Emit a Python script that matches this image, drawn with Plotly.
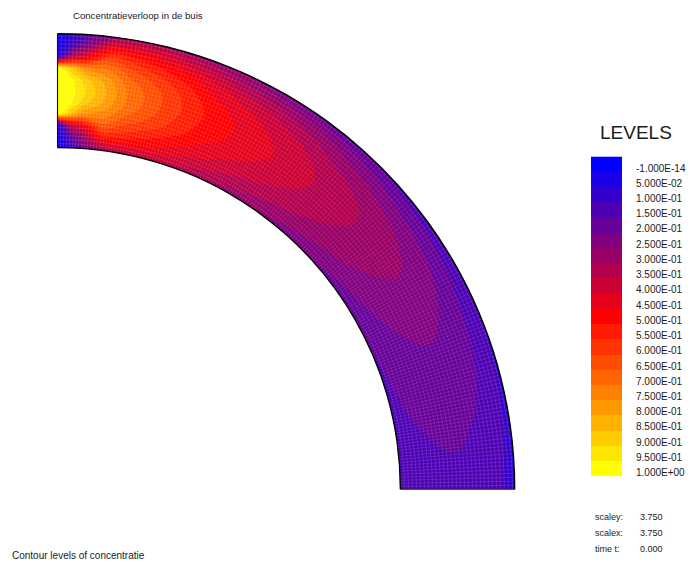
import numpy as np
import plotly.graph_objects as go

# ---- data -----------------------------------------------------------------
# radial stations across the bend, inner wall (3) to outer wall (4)
radius = [3.0, 3.1, 3.2, 3.3, 3.4, 3.5, 3.6, 3.7, 3.8, 3.9, 4.0]
# stations along the bend in degrees, inlet (0) to outlet (90)
angle = [0, 2, 4, 7, 10, 14, 18, 22, 26, 30, 36, 42, 48, 54, 60, 67, 74, 82, 90]

# concentration, one row per angle station, columns follow `radius`
concentration = [
    [0.00, 0.00, 0.02, 1.00, 1.00, 1.00, 1.00, 1.00, 0.02, 0.00, 0.00],
    [0.08, 0.15, 0.35, 0.85, 0.96, 0.97, 0.96, 0.85, 0.35, 0.12, 0.06],
    [0.18, 0.27, 0.45, 0.75, 0.87, 0.90, 0.87, 0.74, 0.45, 0.24, 0.15],
    [0.29, 0.47, 0.62, 0.72, 0.78, 0.80, 0.78, 0.71, 0.60, 0.45, 0.25],
    [0.34, 0.47, 0.57, 0.64, 0.69, 0.70, 0.68, 0.63, 0.55, 0.44, 0.29],
    [0.35, 0.45, 0.52, 0.58, 0.61, 0.62, 0.61, 0.57, 0.50, 0.42, 0.30],
    [0.34, 0.42, 0.47, 0.52, 0.54, 0.55, 0.54, 0.51, 0.46, 0.38, 0.285],
    [0.32, 0.38, 0.43, 0.46, 0.48, 0.49, 0.48, 0.45, 0.41, 0.34, 0.26],
    [0.295, 0.35, 0.39, 0.425, 0.445, 0.45, 0.44, 0.415, 0.37, 0.31, 0.235],
    [0.27, 0.325, 0.365, 0.395, 0.415, 0.42, 0.41, 0.385, 0.345, 0.285, 0.21],
    [0.245, 0.29, 0.33, 0.355, 0.37, 0.375, 0.365, 0.345, 0.305, 0.25, 0.18],
    [0.22, 0.26, 0.295, 0.315, 0.33, 0.335, 0.33, 0.305, 0.27, 0.22, 0.155],
    [0.20, 0.235, 0.265, 0.285, 0.295, 0.30, 0.295, 0.275, 0.24, 0.195, 0.135],
    [0.18, 0.21, 0.24, 0.255, 0.265, 0.27, 0.265, 0.245, 0.215, 0.175, 0.12],
    [0.16, 0.19, 0.21, 0.225, 0.235, 0.24, 0.235, 0.22, 0.195, 0.155, 0.11],
    [0.148, 0.17, 0.185, 0.196, 0.203, 0.205, 0.201, 0.188, 0.167, 0.138, 0.10],
    [0.138, 0.155, 0.168, 0.178, 0.183, 0.185, 0.181, 0.17, 0.152, 0.126, 0.092],
    [0.128, 0.138, 0.145, 0.151, 0.154, 0.155, 0.152, 0.144, 0.13, 0.11, 0.085],
    [0.12, 0.127, 0.133, 0.137, 0.139, 0.14, 0.138, 0.13, 0.118, 0.102, 0.08],
]

levels = [-1e-14, 0.05, 0.10, 0.15, 0.20, 0.25, 0.30, 0.35, 0.40, 0.45, 0.50,
          0.55, 0.60, 0.65, 0.70, 0.75, 0.80, 0.85, 0.90, 0.95, 1.00]

level_colors = [
    "#0000ff", "#1a00e6", "#3300cc", "#4d00b3", "#660099", "#800080", "#990066",
    "#b3004d", "#cc0033", "#e6001a", "#ff0000", "#ff1a00", "#ff3300", "#ff4d00",
    "#ff6600", "#ff8000", "#ff9900", "#ffb300", "#ffcc00", "#ffe600", "#ffff00",
]

info_names = ["scaley:", "scalex:", "time t:"]
info_values = [3.75, 3.75, 0.0]

# ---- layout constants -----------------------------------------------------
W, H = 689, 566
CX, CY, PX = 57.5, 491.0, 114.3      # bend centre (px) and px per length unit
FONT = "Liberation Sans, Arial, sans-serif"
TXT = "#1a1a1a"

colorscale = [[k / (len(level_colors) - 1), c] for k, c in enumerate(level_colors)]

a_rad = np.radians(angle)
r_arr = np.asarray(radius)
X = np.outer(np.sin(a_rad), r_arr)
Y = np.outer(np.cos(a_rad), r_arr)

fig = go.Figure()

fig.add_trace(go.Contourcarpet(
    carpet="bend", a=radius, b=angle, z=concentration,
    autocontour=False,
    contours=dict(start=0.0, end=0.95, size=0.05, coloring="fill", showlines=False),
    colorscale=colorscale, showscale=False,
    line=dict(width=0, smoothing=1.0),
))

# fine element mesh drawn over the filled levels
mesh = "rgba(255,255,255,0.24)"
fig.add_trace(go.Carpet(
    carpet="bend", a=radius, b=angle, x=X, y=Y,
    aaxis=dict(tickmode="linear", tick0=3.0, dtick=0.035, showticklabels="none",
               gridcolor=mesh, gridwidth=0.5, minorgridcount=0, smoothing=1,
               startline=True, endline=True,
               startlinecolor="#000", endlinecolor="#000",
               startlinewidth=1.4, endlinewidth=1.4, title=dict(text="")),
    baxis=dict(tickmode="linear", tick0=0, dtick=0.5, showticklabels="none",
               gridcolor=mesh, gridwidth=0.5, minorgridcount=0, smoothing=1,
               startline=True, endline=True,
               startlinecolor="#111", endlinecolor="#222",
               startlinewidth=1.1, endlinewidth=1.1, title=dict(text="")),
))

# colour legend: one cell per level
fig.add_trace(go.Heatmap(
    x=[0], y=levels, z=[[v] for v in levels],
    colorscale=colorscale, zmin=0, zmax=1, showscale=False,
    xaxis="x2", yaxis="y2", hoverinfo="skip",
))

fig.update_layout(
    width=W, height=H, margin=dict(l=0, r=0, t=0, b=0),
    paper_bgcolor="white", plot_bgcolor="white", showlegend=False,
    xaxis=dict(range=[-CX / PX, (W - CX) / PX], domain=[0, 1], visible=False),
    yaxis=dict(range=[(CY - H) / PX, CY / PX], domain=[0, 1], visible=False),
    xaxis2=dict(domain=[591 / W, 622 / W], range=[-0.5, 0.5], visible=False, anchor="y2"),
    yaxis2=dict(domain=[(H - 478) / H, (H - 157) / H], range=[1.025, -0.025],
                anchor="x2", side="right", showgrid=False, zeroline=False,
                showline=False, ticks="",
                tickvals=[v + 0.013 for v in levels],
                ticktext=[f"{v:.3E}" for v in levels],
                ticklabelstandoff=13,
                tickfont=dict(family=FONT, size=10, color=TXT)),
)

def label(text, x, y, size, anchor="left"):
    fig.add_annotation(text=text, xref="paper", yref="paper",
                       x=x / W, y=1 - y / H, xanchor=anchor, yanchor="middle",
                       showarrow=False, font=dict(family=FONT, size=size, color=TXT))

label("Concentratieverloop in de buis", 138, 16, 9.6, "center")
label("LEVELS", 636, 133, 19, "center")
label("Contour levels of concentratie", 10, 557, 10)
for i, (name, val) in enumerate(zip(info_names, info_values)):
    yy = 519 + i * 16
    label(name, 593, yy, 9)
    label(f"{val:.3f}", 638, yy, 9)

fig.write_html("out.html")
